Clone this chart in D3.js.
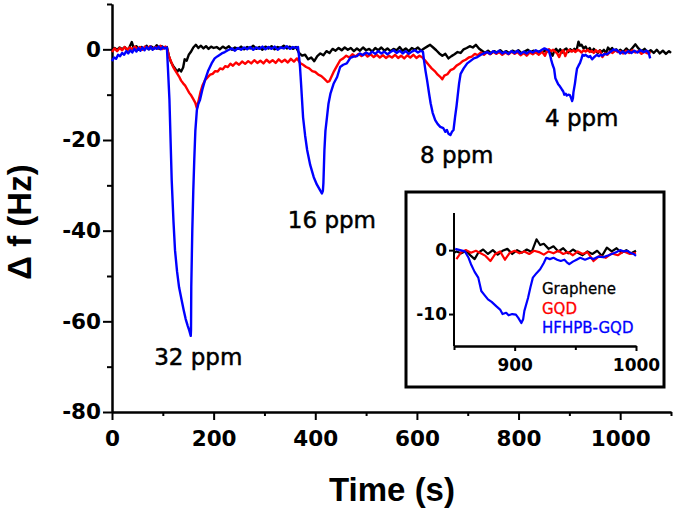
<!DOCTYPE html>
<html>
<head>
<meta charset="utf-8">
<script src="https://cdn.jsdelivr.net/npm/d3@7"></script>
<style>
  html, body { margin: 0; padding: 0; background: #fff; }
  svg { display: block; }
  .tick text { font-family: "DejaVu Sans", sans-serif; font-weight: bold; }
</style>
</head>
<body>
<svg id="chart" width="675" height="510"></svg>
<script>
// series: [time (s), delta f (Hz)]
var graphene = [[0,-0.2],[5,0.3],[10,-0.1],[15,0.4],[20,0],[25,0.5],[30,-0.2],[35,0.6],[39,1.6],[43,0.2],[48,0.7],[53,-0.1],[58,0.5],[63,0.1],[68,0.8],[73,0],[78,0.6],[83,0.2],[88,0.9],[93,0.1],[98,0.7],[103,0.3],[108,0.5],
  [112,-1.5],[116,-2.8],[120,-3.6],[124,-4.2],[128,-5.0],[132,-4.4],[136,-4.9],[140,-4.0],[143,-2.2],[147,-2.5],[151,-1.2],[155,-0.6],[160,0.4],[165,1.0],[170,0.3],[175,0.8],[180,0.2],[185,0.7],[190,0.1],[195,0.6],[200,0.3],
  [206,0.5],[212,0.0],[218,0.6],[224,0.2],[230,0.7],[236,-0.1],[242,0.4],[248,0.1],[254,0.6],[260,0.0],[266,0.5],[272,0.2],[278,0.8],[284,0.1],[290,0.5],[296,-0.1],[302,0.6],[308,0.2],[314,0.7],[320,0.0],[326,0.5],[332,0.3],[338,0.8],[344,0.2],[350,0.6],[356,0.1],[362,0.5],
  [368,-0.8],[374,-1.4],[380,-1.2],[386,-2.2],[392,-1.8],[398,-2.6],[404,-1.5],[410,-0.9],[416,-1.3],[422,-0.4],[428,-0.8],[434,0.1],[440,-0.3],[446,0.3],[452,-0.2],[458,0.4],[464,-0.1],[470,0.3],[476,-0.4],[482,0.2],[488,-0.3],[494,0.4],[500,-0.2],
  [506,0.1],[512,-0.5],[518,0.3],[524,-0.2],[530,0.4],[536,-0.3],[542,0.2],[548,-0.4],[554,0.1],[560,-0.2],[566,0.5],[572,-0.3],[578,0.2],[584,-0.4],[590,0.3],[596,-0.1],[602,0.4],[608,-0.3],[614,0.2],[620,0.6],[626,1.0],[632,0.4],[638,-0.2],
  [644,-0.9],[650,-1.4],[656,-1.0],[662,-2.0],[668,-1.5],[674,-1.1],[680,-0.6],[686,-0.8],[692,0.0],[698,0.3],[704,0.7],[710,0.4],[716,1.0],[722,0.2],[728,-0.3],[734,-0.8],[740,-0.3],[746,-0.9],[752,-0.4],[758,-0.7],[764,-0.2],[770,-0.8],
  [776,-0.4],[782,-0.9],[788,-0.3],[794,-0.6],[800,-0.2],[806,-0.9],[812,-0.5],[818,-0.1],[824,-0.6],[830,-0.3],[836,-0.8],[842,-0.4],[848,-0.7],[852,-0.2],[856,-0.5],[860,-0.1],[864,-0.9],[867,-1.4],[870,-0.4],[874,0.1],[878,-0.6],
  [882,0.0],[886,-0.7],[890,-0.1],[894,0.2],[898,-0.6],[902,0.0],[906,-0.4],[910,0.1],[914,-0.3],[918,1.7],[921,0.8],[924,1.0],[928,0.2],[932,0.6],[936,-0.2],[940,0.3],[944,-0.5],[948,0.1],[952,-0.4],[956,-0.8],[960,-0.2],[964,-0.6],
  [968,-0.1],[972,-0.9],[976,0.4],[980,-0.2],[984,0.3],[988,-0.4],[992,0.0],[996,-0.5],[1000,-0.1],[1006,-0.6],[1012,0.2],[1018,-0.5],[1024,0.3],[1030,1.1],[1036,0.2],[1042,-0.4],[1048,0.1],[1054,-0.7],[1060,-0.2],[1066,-0.8],
  [1072,-0.1],[1078,-0.9],[1084,-0.3],[1090,-1.0],[1096,-0.4],[1100,-0.8]];

var gqd = [[0,-0.6],[5,0.2],[10,-0.4],[15,0.3],[20,-0.2],[25,0.5],[30,-0.1],[35,0.4],[40,0.0],[45,0.6],[50,0.1],[55,0.5],[60,-0.1],[65,0.6],[70,0.2],[75,0.7],[80,0.0],[85,0.5],[90,0.2],[95,0.8],[100,0.1],[105,0.6],[108,0.3],
  [112,-1.5],[116,-2.6],[120,-3.8],[124,-4.6],[128,-5.3],[132,-6.0],[136,-6.9],[140,-7.5],[144,-8.0],[148,-8.8],[152,-9.6],[156,-10.2],[160,-11.0],[164,-11.8],[167,-13.0],[170,-11.5],[174,-9.5],[178,-8.0],[183,-6.8],[188,-6.2],
  [193,-5.6],[198,-5.4],[203,-4.8],[208,-4.9],[213,-4.2],[218,-4.4],[223,-3.7],[228,-3.9],[233,-3.2],[238,-3.6],[244,-2.9],[250,-3.4],[256,-2.7],[262,-3.2],[268,-2.6],[274,-3.1],[280,-2.4],[286,-3.0],[292,-2.5],[298,-3.1],[304,-2.3],
  [310,-2.9],[316,-2.4],[322,-3.0],[328,-2.2],[334,-2.8],[340,-2.3],[346,-2.9],[352,-2.1],[358,-2.7],[364,-2.0],
  [370,-3.0],[376,-3.4],[382,-3.9],[388,-4.2],[394,-4.8],[400,-5.0],[406,-5.6],[412,-5.9],[418,-6.5],[424,-7.2],[428,-7.0],[432,-6.0],[437,-4.8],[443,-3.6],[449,-2.4],[455,-2.0],[461,-1.4],[467,-1.8],[473,-1.1],[479,-1.6],[485,-1.0],
  [491,-1.5],[497,-0.9],[503,-1.6],[509,-1.1],[515,-1.7],[521,-1.2],[527,-1.8],[533,-1.3],[539,-1.9],[545,-1.4],[551,-1.8],[557,-1.2],[563,-1.9],[569,-1.4],[575,-2.0],[581,-1.3],[587,-1.8],[593,-1.2],[599,-1.9],[605,-1.4],[611,-1.8],
  [617,-2.6],[623,-3.4],[629,-4.2],[635,-4.8],[641,-5.6],[647,-6.2],[650,-6.6],[654,-5.8],[660,-5.5],[666,-4.6],[672,-4.3],[678,-3.6],[684,-3.2],[690,-2.6],[696,-2.3],[702,-1.8],[708,-1.6],[714,-1.0],[720,-1.3],[726,-0.7],[732,-1.2],
  [738,-0.6],[744,-1.1],[750,-0.5],[756,-1.0],[762,-0.6],[768,-1.2],[774,-0.7],[780,-1.1],[786,-0.5],[792,-1.0],[798,-0.6],[804,-1.3],[810,-0.8],[816,-1.4],[822,-0.7],[828,-1.1],[834,-0.6],[840,-1.2],[846,-0.5],[852,-1.4],[856,-0.3],
  [860,0.0],[864,-0.4],[868,-0.1],[872,-0.5],[876,-0.9],[880,-1.7],[884,-0.6],[888,-0.2],[892,-1.5],[896,-0.4],[900,-0.1],[904,-0.5],[908,-0.2],[912,-0.6],[916,-0.1],[920,-0.3],[924,-0.7],[928,-0.2],[932,-0.5],[936,-0.1],[940,-0.6],
  [944,-0.3],[948,-0.8],[952,-0.2],[956,-0.6],[960,-0.3],[965,-1.7],[970,-0.9],[975,-1.2],[980,-0.5],[985,-0.8],[990,-0.2],[995,-0.6],[1000,-0.4],[1006,-0.9],[1012,-0.3],[1018,-0.8],[1024,-0.2],[1030,-0.7],[1036,-0.4],[1042,-1.0],
  [1048,-0.5],[1054,-0.9],[1060,-0.6]];

var hfhpbGqd = [[0,-2.6],[4,-1.8],[8,-2.1],[12,-1.2],[16,-1.5],[20,-0.8],[24,-1.2],[28,-0.4],[32,-0.9],[36,-0.2],[40,-0.7],[44,0.1],[48,-0.5],[52,0.3],[56,-0.3],[60,0.4],[64,-0.2],[68,0.5],[72,0.0],[76,0.6],[80,-0.1],[84,0.4],
  [88,0.1],[92,0.6],[96,0.0],[100,0.5],[104,0.2],[108,0.4],
  [110,-4],[113,-11],[117.5,-28.9],[121,-38],[124,-44.3],[128,-49],[132,-52.5],[137,-55.3],[141,-57.5],[145,-59.5],[149,-61],[152,-62],[155,-63.2],[155.5,-61.8],[156,-52.4],[158,-40],[160,-31],[162,-24],[164,-18],[167,-13.4],
  [170,-12.0],[173,-11.2],[178,-8.8],[183,-6.8],[189,-4.8],[196,-3.1],[202,-2.0],[208,-1.5],[216,-0.9],[222,-0.6],[228,-0.2],[236,0.2],[242,-0.3],[248,0.3],[254,-0.1],[260,0.4],[266,0.0],[272,0.5],[278,-0.1],[284,0.4],[290,0.1],
  [296,0.6],[302,0.0],[308,0.5],[314,0.1],[320,0.6],[326,-0.1],[332,0.4],[338,0.2],[344,0.7],[350,0.1],[356,0.5],[362,0.3],[366,0.5],
  [368,-1.5],[370,-4],[372,-7.5],[376,-15],[380,-19],[384,-22.2],[390,-25.5],[397,-28.2],[403,-29.8],[408,-30.8],[413,-31.8],[415,-31.2],[416,-29.5],[418,-22.2],[420,-18],[423,-15],[426,-12],[430,-9.7],[436,-7.6],[443,-6.1],
  [449,-3.9],[455,-3.4],[462,-3.1],[469,-1.9],[475,-1.6],[482,-1.5],[488,-0.9],[494,-1.3],[500,-0.7],[506,-1.1],[512,-0.5],[518,-1.0],[524,-0.4],[530,-0.9],[536,-0.5],[542,-1.1],[548,-0.6],[554,-0.2],[560,-0.8],[566,-0.3],
  [572,-0.9],[578,-0.4],[584,-1.0],[590,-0.5],[596,-0.2],[602,-0.7],[608,-0.3],[612,-0.6],
  [614,-2.5],[617,-4.8],[620,-6.8],[624,-9.8],[627,-11.9],[631,-14],[636,-15.6],[641,-16.5],[646,-17.1],[652,-17.4],[656,-18.2],[659,-17.8],[662,-18.6],[666,-18.9],[669,-18.2],[672,-17.8],[675,-15],[678,-12.5],[680,-10.5],
  [683,-7.5],[686,-5.4],[692,-4.2],[699,-3.1],[705,-2.6],[712,-2.0],[719,-1.7],[726,-1.2],[732,-0.9],[738,-0.6],[744,-1.0],[750,-0.4],[756,-0.8],[762,-0.3],[768,-0.9],[774,-0.5],[780,-1.0],[786,-0.4],[792,-0.8],[798,-0.3],
  [804,-1.0],[810,-0.5],[816,-0.9],[822,-0.4],[828,-0.7],[834,-0.2],[840,-0.6],[846,-0.1],[851,0.2],[855,0.0],[859,-0.2],
  [862,-1.2],[864,-2.2],[867,-3.4],[870,-4.3],[872.5,-6.4],[875,-7.0],[878,-7.7],[881,-8.1],[885,-8.8],[888,-9.3],[890,-10.0],[893,-9.8],[895,-10.2],[898,-10.0],[901,-10.1],[903,-10.6],[905.5,-11.4],[907,-10.8],[908,-9.5],
  [911,-7.5],[913,-5.8],[915,-4.3],[918,-3.6],[921,-3.0],[924,-2.0],[926,-1.2],[929,-1.4],[932,-1.2],[935,-1.5],[938,-1.7],[941,-1.5],[943,-1.9],[945,-2.2],[948,-1.8],[951,-1.5],[954,-1.2],[958,-1.5],[962,-1.2],[965,-1.4],
  [969,-1.0],[973,-1.1],[976,-0.9],[980,-0.6],[984,-0.3],[987,0.0],[990,-0.2],[993,-0.1],[995,-0.4],[998,-0.6],[1000,-0.9],[1005,-0.5],[1010,-0.9],[1016,-0.4],[1022,-0.8],[1028,-0.3],[1034,-0.7],[1040,-0.2],[1046,-0.6],
  [1052,-0.3],[1056,-0.7],[1059,-2.0]];

var seriesNames = ["Graphene", "GQD", "HFHPB-GQD"];
var seriesColors = ["#000000", "#ff0000", "#0000ff"];
var seriesData = [graphene, gqd, hfhpbGqd];

// tick values
var xMajor = [0, 200, 400, 600, 800, 1000];
var xMinor = [100, 300, 500, 700, 900, 1100];
var yMajor = [0, -20, -40, -60, -80];
var yMinor = [10, -10, -30, -50, -70];
var insetXMajor = [900, 1000];
var insetXMinor = [850, 950];
var insetYMajor = [0, -10];

// concentration labels: [text, time, delta f] (left / baseline)
var annotations = [["32 ppm", 83, -69.6], ["16 ppm", 346, -39.4], ["8 ppm", 606, -25.1], ["4 ppm", 852, -16.9]];

var svg = d3.select("#chart");
var plain = function(d){ return String(d); };   // hyphen minus, no thousands comma

// main scales
var xScale = d3.scaleLinear().domain([0, 1100]).range([112, 671]);
var yScale = d3.scaleLinear().domain([-80, 10]).range([412, 4]);

function styleAxis(g, fontSize){
	g.select(".domain").attr("stroke", "#000").attr("stroke-width", 2);
	g.selectAll(".tick line").attr("stroke", "#000").attr("stroke-width", 2);
	g.selectAll(".tick text").attr("fill", "#000").style("font-size", fontSize + "px");
}

// main axes
var gxMinor = svg.append("g").attr("transform", "translate(0,412)")
		.call(d3.axisBottom(xScale).tickValues(xMinor).tickSize(4).tickSizeOuter(0).tickFormat(""));
var gx = svg.append("g").attr("transform", "translate(0,412)")
		.call(d3.axisBottom(xScale).tickValues(xMajor).tickSize(8).tickSizeOuter(0).tickPadding(11).tickFormat(plain));
var gyMinor = svg.append("g").attr("transform", "translate(112,0)")
		.call(d3.axisLeft(yScale).tickValues(yMinor).tickSize(5).tickSizeOuter(0).tickFormat(""));
var gy = svg.append("g").attr("transform", "translate(112,0)")
		.call(d3.axisLeft(yScale).tickValues(yMajor).tickSize(9).tickSizeOuter(0).tickPadding(2).tickFormat(plain));
[gxMinor, gx, gyMinor, gy].forEach(function(g){ styleAxis(g, 21.5); });

// axis titles
svg.append("text").attr("x", 392).attr("y", 501).attr("text-anchor", "middle")
		.style("font-family", "'Liberation Sans', Arial, sans-serif").style("font-weight", "bold").style("font-size", "33px")
		.text("Time (s)");
svg.append("text").attr("transform", "translate(31,222) rotate(-90)").attr("text-anchor", "middle")
		.style("font-family", "'Liberation Sans', Arial, sans-serif").style("font-weight", "bold").style("font-size", "33px")
		.text("Δ f (Hz)");

// main lines
var line = d3.line().x(function(d){ return xScale(d[0]); }).y(function(d){ return yScale(d[1]); });
seriesData.forEach(function(s, i){
	svg.append("path").attr("d", line(s)).attr("fill", "none")
			.attr("stroke", seriesColors[i]).attr("stroke-width", 2.4).attr("stroke-linejoin", "round");
});

// ppm labels
svg.selectAll(".ann").data(annotations).enter().append("text").attr("class", "ann")
		.attr("x", function(d){ return xScale(d[1]); }).attr("y", function(d){ return yScale(d[2]); })
		.style("font-family", "'DejaVu Sans', sans-serif").style("font-size", "23px")
		.attr("fill", "#000").attr("stroke", "#000").attr("stroke-width", 0.5)
		.text(function(d){ return d[0]; });

// inset
svg.append("rect").attr("x", 406).attr("y", 192).attr("width", 258).attr("height", 195)
		.attr("fill", "#fff").attr("stroke", "#000").attr("stroke-width", 3);

var xIn = d3.scaleLinear().domain([850, 1000]).range([454, 636]);
var yIn = d3.scaleLinear().domain([-15, 5.5]).range([346, 215]);

svg.append("clipPath").attr("id", "insetClip").append("rect")
		.attr("x", 454).attr("y", 212).attr("width", 183).attr("height", 134);

var gix = svg.append("g").attr("transform", "translate(0,346)")
		.call(d3.axisBottom(xIn).tickValues(insetXMinor).tickSize(4).tickSizeOuter(0).tickFormat(""));
var gixMaj = svg.append("g").attr("transform", "translate(0,346)")
		.call(d3.axisBottom(xIn).tickValues(insetXMajor).tickSize(5).tickSizeOuter(0).tickPadding(8).tickFormat(plain));
var giy = svg.append("g").attr("transform", "translate(454,0)")
		.call(d3.axisLeft(yIn).tickValues(insetYMajor).tickSize(5).tickSizeOuter(0).tickPadding(2).tickFormat(plain));
[gix, gixMaj, giy].forEach(function(g){ styleAxis(g, 17); });
giy.select(".domain").attr("d", "M0,213V346");

var lineIn = d3.line().x(function(d){ return xIn(d[0]); }).y(function(d){ return yIn(d[1]); });
var insetLines = svg.append("g").attr("clip-path", "url(#insetClip)");
seriesData.forEach(function(s, i){
	var part = s.filter(function(d){ return d[0] >= 848 && d[0] <= 1002; });
	insetLines.append("path").attr("d", lineIn(part)).attr("fill", "none")
			.attr("stroke", seriesColors[i]).attr("stroke-width", 2.2).attr("stroke-linejoin", "round");
});

// legend
var legendY = [294, 314, 333];
svg.selectAll(".leg").data(seriesNames).enter().append("text").attr("class", "leg")
		.attr("x", 542).attr("y", function(d, i){ return legendY[i]; })
		.style("font-family", "'DejaVu Sans', sans-serif").style("font-size", "15px")
		.attr("fill", function(d, i){ return seriesColors[i]; })
		.attr("stroke", function(d, i){ return seriesColors[i]; }).attr("stroke-width", 0.3)
		.text(function(d){ return d; });
</script>
</body>
</html>
